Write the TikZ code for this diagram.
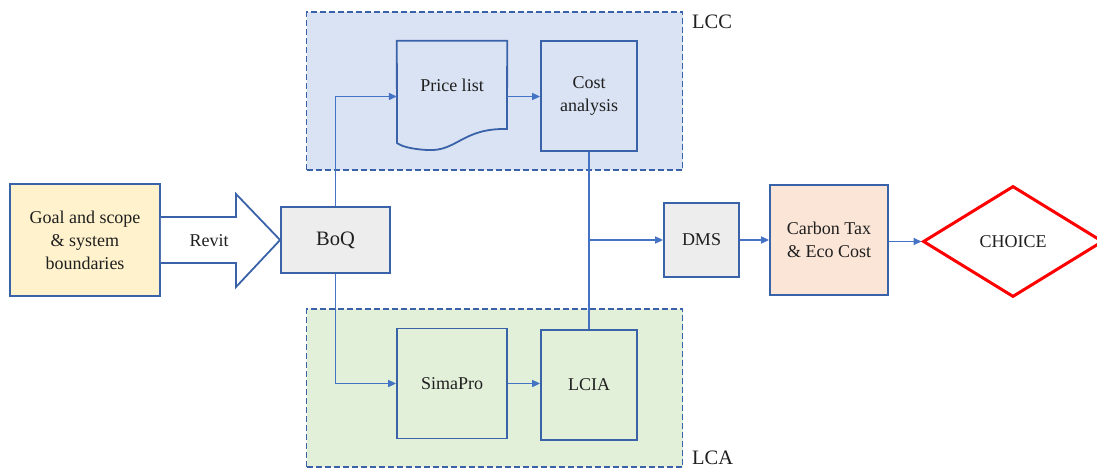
\documentclass[tikz,border=0pt]{standalone}
\usepackage{fontspec}
\setmainfont{Liberation Serif}
\usetikzlibrary{shapes.geometric,arrows.meta,calc}
\definecolor{bord}{HTML}{3A62A8}
\definecolor{conn}{HTML}{4472C4}
\definecolor{txt}{HTML}{1F1F1F}
\definecolor{goalfill}{HTML}{FFF2CC}
\definecolor{greyfill}{HTML}{EDEDED}
\definecolor{lccfill}{HTML}{DAE3F3}
\definecolor{lcafill}{HTML}{E2F0D9}
\definecolor{taxfill}{HTML}{FBE5D6}
\begin{document}
\begin{tikzpicture}[x=1pt,y=-1pt,
  every node/.style={text=txt,font=\fontsize{18}{23}\selectfont,align=center,inner sep=0pt},
  box/.style={draw=bord,line width=1.8pt,rectangle},
  container/.style={draw=bord,line width=1.8pt,dash pattern=on 6pt off 3pt,rectangle,minimum width=376pt,minimum height=158pt},
  conn/.style={draw=conn,line width=1.6pt,-{Triangle[length=8pt,width=7pt]}},
  line/.style={draw=conn,line width=1.6pt},
  big/.style={font=\fontsize{20.5}{25}\selectfont}]
\useasboundingbox (0,0) rectangle (1097,468);

% containers
\node[container,fill=lccfill] (lcc) at (494.5,91) {};
\node[container,fill=lcafill] (lca) at (494.5,388) {};
\node[big,anchor=west] (lcclab) at (692,22) {LCC};
\node[big,anchor=west] (lcalab) at (692,458) {LCA};

% left part
\node[box,fill=goalfill,minimum width=150pt,minimum height=112pt] (goal) at (85,240) {Goal and scope\\\& system\\boundaries};
\node[box,fill=greyfill,minimum width=109pt,minimum height=66pt,big] (boq) at (335.5,240) {BoQ};
\draw[draw=bord,line width=1.8pt,fill=white,line join=miter]
  ($(goal.east)+(0,-23)$) -- (236,217) -- (236,194) -- (boq.west) -- (236,287) -- (236,263) -- ($(goal.east)+(0,23)$);
\node (revit) at (209,241) {Revit};

% LCC boxes
\node[minimum width=110pt,minimum height=111pt] (pl) at (452,96.5) {Price list\\\mbox{}};
\draw[draw=bord,line width=1.8pt,line join=miter]
  (pl.north west) -- (pl.north east) -- (507,129)
  .. controls (462,128) and (457,152) .. (427,150)
  .. controls (410,149) and (401,146) .. (397,143) -- cycle;
\node[box,minimum width=96pt,minimum height=110pt] (ca) at (589,96) {Cost\\analysis};

% LCA boxes
\node[box,minimum width=110pt,minimum height=110pt] (sp) at (452,383.5) {SimaPro};
\node[box,minimum width=96pt,minimum height=110pt] (lcia) at (589,385) {LCIA};

% right part
\node[box,fill=greyfill,minimum width=75pt,minimum height=74pt] (dms) at (701.5,240) {DMS};
\node[box,fill=taxfill,minimum width=118pt,minimum height=110pt] (tax) at (829,240) {Carbon Tax\\\& Eco Cost};
\node[diamond,draw=red,line width=3pt,minimum width=180pt,minimum height=111pt] (choice) at (1013,241.5) {CHOICE};

% connectors
\draw[conn] (boq.north) |- (pl.west);
\draw[conn] (pl.east) -- (pl.east -| ca.west);
\draw[conn] (boq.south) |- (sp.west);
\draw[conn] (sp.east) -- (sp.east -| lcia.west);
\draw[line] (ca.south) -- (lcia.north);
\coordinate (j) at (ca.south |- dms.west);
\draw[conn] (j) -- (dms.west);
\draw[conn] (dms.east) -- (tax.west);
\draw[conn] (tax.east |- choice.west) -- (choice.west);
\end{tikzpicture}
\end{document}
